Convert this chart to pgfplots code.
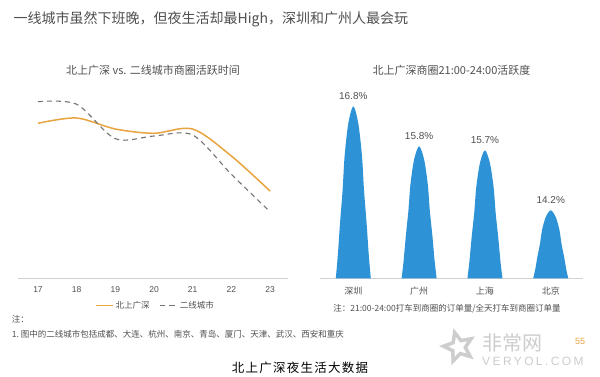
\documentclass[border=0pt]{standalone}
\usepackage{pgfplots}
\pgfplotsset{compat=1.18}
\usepackage{fontspec}
\setmainfont{Liberation Sans}
\newfontfamily\cjk{Noto Sans CJK SC}
\usetikzlibrary{shapes.geometric}
\definecolor{orangeL}{RGB}{232,164,62}
\definecolor{grayD}{RGB}{115,115,115}
\definecolor{blueP}{RGB}{45,146,214}
\definecolor{txt}{RGB}{80,80,80}
\definecolor{wm}{RGB}{205,205,205}
\begin{document}
\begin{tikzpicture}
\fill[white] (0pt,0pt) rectangle (600pt,376pt);
\node[anchor=west, text=txt, font=\cjk\fontsize{14}{16}\selectfont, inner sep=0] at (13.5pt,357pt) {一线城市虽然下班晚，但夜生活却最High，深圳和广州人最会玩};

\begin{axis}[at={(18pt,98pt)}, anchor=south west, scale only axis, width=270pt, height=200pt,
  xmin=16.483, xmax=23.465, ymin=0, ymax=200,
  axis x line*=bottom, axis y line=none, clip=false,
  xtick={17,18,19,20,21,22,23}, major tick length=0,
  x axis line style={draw=black!18, line width=0.8pt, -},
  xticklabel style={font=\fontsize{8.5}{10}\selectfont, text=txt, yshift=-5pt},
  /pgf/number format/assume math mode=true,
  title={北上广深 vs. 二线城市商圈活跃时间},
  title style={font=\cjk\fontsize{11}{13}\selectfont, text=txt, at={(0.5,1)}, anchor=center, yshift=1.3pt},
  legend style={at={(0.509,-0.1385)}, anchor=center, draw=none, fill=none, legend columns=2,
    font=\cjk\fontsize{8.5}{10}\selectfont, text=txt, inner sep=0pt,
    /tikz/every even column/.append style={column sep=8pt}},
]
\addplot[orangeL, line width=1.5pt, smooth] coordinates {(17,154.7)(18,160)(19,149)(20,144.7)(21,149)(22,122)(23,87)};
\addplot[grayD, line width=1.1pt, smooth, dash pattern=on 5pt off 4pt] coordinates {(17,176.3)(18,173.7)(19,139.3)(20,142)(21,143)(22,103.7)(23,66.3)};
\legend{北上广深, 二线城市}
\end{axis}

\begin{axis}[at={(320pt,97.7pt)}, anchor=south west, scale only axis, width=263pt, height=208pt,
  xmin=-0.506, xmax=3.49, ymin=12.5, ymax=17.7,
  axis x line*=bottom, axis y line=none, clip=false,
  xtick={0,1,2,3}, xticklabels={深圳,广州,上海,北京}, major tick length=0,
  x axis line style={draw=black!18, line width=0.8pt, -},
  xticklabel style={font=\cjk\fontsize{9}{10}\selectfont, text=txt, yshift=-5pt},
  title={北上广深商圈21:00-24:00活跃度},
  title style={font=\cjk\fontsize{11}{13}\selectfont, text=txt, at={(0.5,1)}, anchor=center, yshift=-6.4pt},
]
\addplot[fill=blueP, draw=none, smooth] coordinates {(-0.266,12.5)(-0.236,13.059)(-0.202,13.876)(-0.163,14.693)(-0.132,15.553)(-0.076,16.37)(0,16.8)(0.076,16.37)(0.132,15.553)(0.163,14.693)(0.202,13.876)(0.236,13.059)(0.266,12.5)};
\addplot[fill=blueP, draw=none, smooth] coordinates {(0.734,12.5)(0.764,12.929)(0.798,13.556)(0.837,14.183)(0.868,14.843)(0.924,15.47)(1,15.8)(1.076,15.47)(1.132,14.843)(1.163,14.183)(1.202,13.556)(1.236,12.929)(1.266,12.5)};
\addplot[fill=blueP, draw=none, smooth] coordinates {(1.734,12.5)(1.764,12.916)(1.798,13.524)(1.837,14.132)(1.868,14.772)(1.924,15.38)(2,15.7)(2.076,15.38)(2.132,14.772)(2.163,14.132)(2.202,13.524)(2.236,12.916)(2.266,12.5)};
\addplot[fill=blueP, draw=none, smooth] coordinates {(2.734,12.5)(2.764,12.721)(2.798,13.044)(2.837,13.367)(2.868,13.707)(2.924,14.03)(3,14.2)(3.076,14.03)(3.132,13.707)(3.163,13.367)(3.202,13.044)(3.236,12.721)(3.266,12.5)};
\addplot[draw=none, mark=none, point meta=y,
  nodes near coords={\pgfmathprintnumber[fixed,fixed zerofill,precision=1,assume math mode=true]{\pgfplotspointmeta}\%},
  every node near coord/.append style={anchor=south, inner sep=0pt, yshift=7pt, font=\fontsize{10}{12}\selectfont, text=txt}]
  coordinates {(0,16.8)(1,15.8)(2,15.7)(3,14.2)};
\end{axis}

\node[text=txt, font=\cjk\fontsize{8.5}{10}\selectfont, inner sep=0] at (447pt,67.7pt) {注：21:00-24:00打车到商圈的订单量/全天打车到商圈订单量};
\node[anchor=west, text=txt, font=\cjk\fontsize{8.5}{10}\selectfont, inner sep=0] at (11.7pt,56.7pt) {注：};
\node[anchor=west, text=txt, font=\cjk\fontsize{8.5}{10}\selectfont, inner sep=0] at (11.7pt,41.5pt) {1.\ 图中的二线城市包括成都、大连、杭州、南京、青岛、厦门、天津、武汉、西安和重庆};
\node[text=orangeL, font=\fontsize{9}{10}\selectfont, inner sep=0] at (580pt,34.3pt) {55};
\node[star, star points=5, star point ratio=2.2, draw=wm, line width=3.5pt, minimum size=30pt, rotate=15] at (458.5pt,29pt) {};
\node[anchor=west, text=wm, font=\cjk\fontsize{20}{22}\selectfont, inner sep=0] at (482pt,32.7pt) {非常网};
\node[anchor=west, text=wm, font=\fontsize{12}{14}\selectfont\addfontfeature{LetterSpace=20}, inner sep=0] at (482pt,14.3pt) {VERYOL.COM};
\node[text=black, font=\cjk\fontsize{12.5}{14}\selectfont\addfontfeature{LetterSpace=10}, inner sep=0] at (300pt,8.5pt) {北上广深夜生活大数据};
\end{tikzpicture}
\end{document}
